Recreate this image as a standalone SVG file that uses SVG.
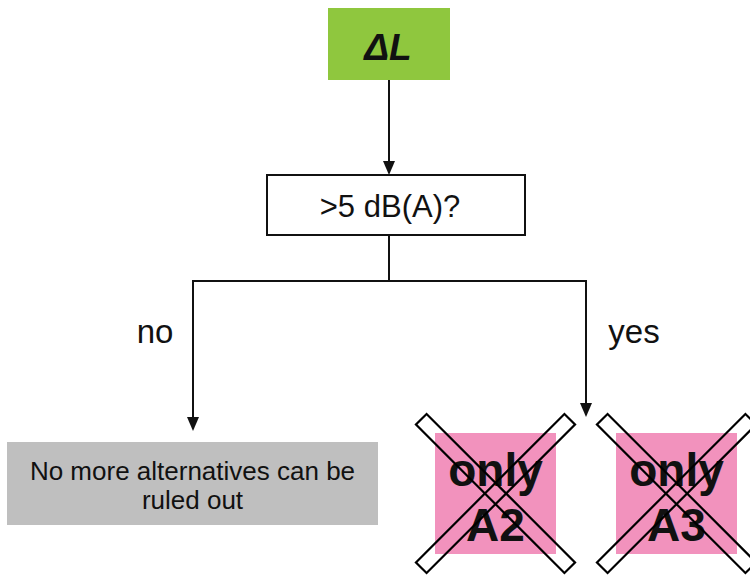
<svg xmlns="http://www.w3.org/2000/svg" width="750" height="577" viewBox="0 0 750 577">
<defs>
<style>
text{font-family:"Liberation Sans",Arial,sans-serif;fill:#111;text-anchor:middle}
.ln{fill:none;stroke:#111;stroke-width:2}
.band{fill:none;stroke:#000;stroke-width:2.2}
.big{font-size:46px;font-weight:bold}
</style>
</defs>
<rect width="750" height="577" fill="#fff"/>
<g id="connectors">
<line class="ln" x1="389" y1="80" x2="389" y2="161"/>
<path d="M383,161 L395,161 L389,175 Z" fill="#111"/>
<polyline class="ln" points="389,235 389,281 193,281 193,418"/>
<path d="M187,417 L199,417 L193,431 Z" fill="#111"/>
<polyline class="ln" points="389,281 586,281 586,404"/>
<path d="M580,403 L592,403 L586,417 Z" fill="#111"/>
<text x="155" y="343" font-size="33">no</text>
<text x="634" y="343" font-size="33">yes</text>
</g>
<g id="start">
<rect x="328" y="8" width="122" height="72" fill="#8fc73e"/>
<text x="388" y="60" font-size="37" font-weight="bold" font-style="italic">ΔL</text>
</g>
<g id="decision">
<rect x="267" y="175" width="258" height="60" fill="#fff" stroke="#111" stroke-width="2"/>
<text x="390" y="217" font-size="31">&gt;5 dB(A)?</text>
</g>
<g id="no-result">
<rect x="7" y="442" width="371" height="83" fill="#bfbfbf"/>
<text x="192.5" y="480" font-size="26">No more alternatives can be</text>
<text x="192.5" y="509" font-size="26">ruled out</text>
</g>
<g id="only-a2">
<rect x="435" y="433" width="121" height="121" fill="#f292bd"/>
<text class="big" x="495.5" y="486">only</text>
<text class="big" x="495.5" y="541">A2</text>
<rect class="band" x="390.5" y="486" width="210" height="15" transform="rotate(45 495.5 493.5)"/>
<rect class="band" x="390.5" y="486" width="210" height="15" transform="rotate(-45 495.5 493.5)"/>
</g>
<g id="only-a3">
<rect x="616" y="433" width="121" height="121" fill="#f292bd"/>
<text class="big" x="676.5" y="486">only</text>
<text class="big" x="676.5" y="541">A3</text>
<rect class="band" x="571.5" y="486" width="210" height="15" transform="rotate(45 676.5 493.5)"/>
<rect class="band" x="571.5" y="486" width="210" height="15" transform="rotate(-45 676.5 493.5)"/>
</g>
</svg>
